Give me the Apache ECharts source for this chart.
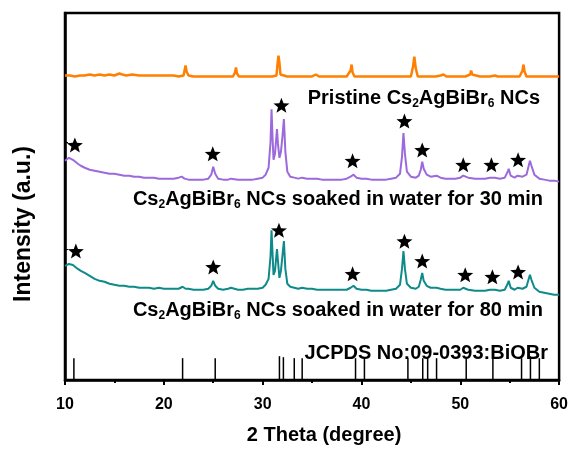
<!DOCTYPE html>
<html>
<head>
<meta charset="utf-8">
<script src="https://cdn.jsdelivr.net/npm/echarts@6/dist/echarts.min.js"></script>
<style>
html,body{margin:0;padding:0;background:#fff;}
#chart{width:571px;height:450px;}
</style>
</head>
<body>
<div id="chart"></div>
<script>
// 2θ (degree) vs intensity (a.u., offset traces)
const pristine = [[10.0,307],[10.5,307],[11.0,306],[11.5,307],[12.0,307],[12.5,308],[13.0,307],[13.5,308],[14.0,307],[14.5,308],[15.0,307],[15.5,309],[15.8,308],[16.2,307],[16.8,308],[17.5,307],[18.0,307],[18.5,307],[19.0,307],[19.5,307],[20.0,307],[20.5,307],[21.0,307],[21.5,306],[22.0,307],[22.1,312],[22.2,317],[22.3,311],[22.5,307],[23.0,306],[23.5,306],[24.0,306],[24.5,306],[25.0,306],[25.5,306],[26.0,306],[26.5,306],[27.0,306],[27.2,310],[27.3,315],[27.4,309],[27.6,306],[28.0,306],[28.5,306],[29.0,306],[29.5,306],[30.0,306],[30.5,306],[31.0,306],[31.4,307],[31.5,318],[31.6,327],[31.7,320],[31.8,308],[32.0,306],[32.5,306],[33.0,306],[33.5,306],[34.0,306],[34.5,306],[35.0,306],[35.4,308],[35.7,306],[36.0,306],[36.5,306],[37.0,306],[37.5,306],[38.0,306],[38.5,306],[38.9,312],[39.0,318],[39.1,310],[39.3,306],[39.8,306],[40.5,306],[41.0,306],[41.5,306],[42.0,306],[42.5,306],[43.0,306],[43.5,306],[44.0,306],[44.5,306],[45.0,306],[45.2,315],[45.35,326],[45.5,314],[45.7,306],[46.0,306],[46.5,306],[47.0,306],[47.5,306],[48.0,307],[48.3,308],[48.6,306],[49.0,306],[49.5,306],[50.0,306],[50.5,306],[51.0,308],[51.1,312],[51.2,308],[51.4,306],[52.0,306],[52.5,306],[53.0,306],[53.5,307],[53.8,306],[54.5,306],[55.0,306],[55.5,306],[56.0,306],[56.3,312],[56.4,318],[56.5,311],[56.7,306],[57.0,306],[57.5,306],[58.0,306],[58.5,306],[59.0,306],[59.5,306],[60.0,306]];

const soaked30 = [[10.0,221],[10.2,223],[10.4,224],[10.6,223],[10.8,222],[11.0,220],[11.3,218],[11.6,216],[12.0,214],[12.5,212],[13.0,211],[13.5,210],[14.0,209],[14.5,208],[15.0,208],[15.5,207],[16.0,206],[16.5,206],[17.0,205],[17.5,205],[18.0,204],[18.5,204],[19.0,204],[19.5,203],[20.0,203],[20.5,203],[21.0,203],[21.5,204],[21.8,205],[22.1,203],[22.5,202],[23.0,202],[23.5,202],[24.0,202],[24.5,203],[24.8,207],[25.0,215],[25.2,208],[25.5,203],[26.0,202],[26.5,202],[26.8,203],[27.0,202],[27.5,202],[28.0,202],[28.5,202],[29.0,202],[29.5,203],[30.0,204],[30.3,207],[30.6,214],[30.8,240],[30.9,273],[31.0,245],[31.1,222],[31.25,228],[31.45,253],[31.55,238],[31.7,224],[31.85,230],[32.0,245],[32.15,263],[32.3,230],[32.5,210],[32.8,205],[33.2,204],[33.6,203],[34.0,204],[34.5,203],[35.0,203],[35.5,203],[36.0,202],[36.5,202],[37.0,202],[37.5,202],[38.0,202],[38.5,203],[38.9,205],[39.2,207],[39.5,204],[40.0,203],[40.5,203],[41.0,202],[41.5,202],[42.0,202],[42.5,202],[43.0,203],[43.5,204],[43.9,208],[44.1,225],[44.25,249],[44.4,228],[44.6,210],[45.0,205],[45.5,204],[45.8,206],[46.0,212],[46.15,220],[46.3,213],[46.6,207],[47.0,205],[47.6,206],[48.0,204],[48.5,203],[49.0,203],[49.5,203],[50.0,204],[50.3,206],[50.5,206],[50.8,204],[51.5,203],[52.0,203],[52.5,203],[53.0,204],[53.2,205],[53.5,204],[54.0,203],[54.5,204],[54.8,210],[54.9,213],[55.1,206],[55.5,204],[55.8,206],[56.0,207],[56.3,205],[56.7,207],[56.9,215],[57.05,221],[57.2,216],[57.5,207],[58.0,203],[58.5,202],[59.0,201],[59.5,201],[60.0,200]];

const soaked80 = [[10.0,115],[10.2,116],[10.4,117],[10.6,117],[10.8,116],[11.0,114],[11.3,112],[11.6,110],[12.0,108],[12.5,105],[13.0,102],[13.5,100],[14.0,99],[14.5,97],[15.0,96],[15.5,95],[16.0,95],[16.5,94],[17.0,94],[17.5,93],[18.0,93],[18.5,93],[19.0,92],[19.5,93],[20.0,92],[20.5,92],[21.0,92],[21.5,92],[21.9,94],[22.2,92],[22.5,92],[23.0,91],[23.5,91],[24.0,91],[24.5,92],[24.8,95],[25.0,100],[25.2,95],[25.5,92],[26.0,91],[26.5,92],[26.8,93],[27.0,91],[27.5,91],[28.0,91],[28.5,92],[29.0,92],[29.5,92],[30.0,93],[30.3,96],[30.6,102],[30.8,125],[30.9,151],[31.0,128],[31.1,106],[31.25,110],[31.45,132],[31.55,120],[31.7,103],[31.85,110],[32.0,125],[32.15,140],[32.3,112],[32.5,97],[32.8,94],[33.2,93],[33.6,92],[34.0,93],[34.5,92],[35.0,92],[35.5,91],[36.0,91],[36.5,91],[37.0,91],[37.5,91],[38.0,91],[38.5,91],[38.9,93],[39.2,95],[39.5,92],[40.0,91],[40.5,91],[41.0,90],[41.5,90],[42.0,90],[42.5,90],[43.0,91],[43.5,92],[43.9,96],[44.1,112],[44.25,130],[44.4,112],[44.6,97],[45.0,93],[45.5,92],[45.8,94],[46.0,101],[46.15,108],[46.3,100],[46.6,95],[47.0,93],[47.6,93],[48.0,92],[48.5,91],[49.0,91],[49.5,91],[50.0,91],[50.3,93],[50.5,93],[50.8,91],[51.5,90],[52.0,90],[52.5,90],[53.0,91],[53.2,92],[53.5,91],[54.0,90],[54.5,91],[54.8,97],[54.9,100],[55.1,93],[55.5,91],[55.8,93],[56.0,94],[56.3,92],[56.7,94],[56.9,101],[57.05,106],[57.2,101],[57.5,93],[58.0,89],[58.5,88],[59.0,87],[59.5,86],[60.0,86]];

// star markers above the peaks
const stars30 = [[11.0,237],[24.95,228],[31.9,277],[39.1,221],[44.35,261],[46.15,232],[50.3,217],[53.15,217],[55.85,222]];
const stars80 = [[11.1,130],[25.0,114],[31.65,151],[39.1,107],[44.35,140],[46.15,120],[50.5,106],[53.25,104],[55.85,109]];

// JCPDS 09-0393 BiOBr reference lines
const refPos = [10.9,21.9,25.2,31.7,32.1,33.2,34.0,39.4,40.3,44.7,46.2,46.7,47.6,50.6,53.3,56.2,57.1,58.0];
const refHeight = [22,22,22,24,23,22,22,22,22,22,22,22,22,22,22,22,24,22];

const xTicks = [10,20,30,40,50,60];
const yTicks = [132,240];

// labels as rich text (Cs2AgBiBr6 with subscripts)
const labelPristine = '{m|Pristine Cs}{s|2}{m|AgBiBr}{s|6}{m| NCs}';
const label30 = '{m|Cs}{s|2}{m|AgBiBr}{s|6}{m| NCs soaked in water for 30 min}';
const label80 = '{m|Cs}{s|2}{m|AgBiBr}{s|6}{m| NCs soaked in water for 80 min}';
const labelRef = 'JCPDS No:09-0393:BiOBr';
const xName = '2 Theta (degree)';
const yName = 'Intensity (a.u.)';

const FONT = '"Liberation Sans", Arial, sans-serif';
const chart = echarts.init(document.getElementById('chart'));

const rich = {
  m: {fontSize: 20, fontWeight: 'bold', fontFamily: FONT, color: '#000', lineHeight: 20},
  s: {fontSize: 12, fontWeight: 'bold', fontFamily: FONT, color: '#000', lineHeight: 12, padding: [12,0,0,0]}
};

const starPath = 'path://M12,1 L14.9,8.6 L23,9.1 L16.7,14.2 L18.8,22.1 L12,17.6 L5.2,22.1 L7.3,14.2 L1,9.1 L9.1,8.6 Z';

const option = {
  animation: false,
  backgroundColor: '#fff',
  grid: {left: 65, right: 11, top: 13, bottom: 67, show: true, borderColor: '#000', borderWidth: 2.5, backgroundColor: 'transparent'},
  xAxis: {
    type: 'value', min: xTicks[0], max: xTicks[xTicks.length-1], interval: 10,
    name: xName, nameLocation: 'middle', nameGap: 45,
    nameTextStyle: {fontSize: 20, fontWeight: 'bold', fontFamily: FONT, color: '#000', padding: [0,0,0,24]},
    axisLine: {show: true, lineStyle: {color: '#000', width: 2.5}},
    axisTick: {show: true, inside: false, length: 5, lineStyle: {color: '#000', width: 2}},
    minorTick: {show: true, splitNumber: 2, length: 3, lineStyle: {color: '#000', width: 2}},
    axisLabel: {fontSize: 16, fontWeight: 'bold', fontFamily: FONT, color: '#000', margin: 17},
    splitLine: {show: false}, minorSplitLine: {show: false}
  },
  yAxis: {
    type: 'value', min: 0, max: 370,
    axisLine: {show: true, lineStyle: {color: '#000', width: 2.5}},
    axisTick: {show: true, inside: true, length: 3, customValues: yTicks, lineStyle: {color: '#000', width: 1}},
    axisLabel: {show: false},
    splitLine: {show: false}
  },
  graphic: [
    {type: 'text', x: 24, y: 224, rotation: Math.PI/2,
     style: {text: yName, font: 'bold 23px ' + FONT, fill: '#000', align: 'center', verticalAlign: 'middle'}},
    {type: 'text', x: 540, y: 98, style: {text: labelPristine, rich: rich, align: 'right', verticalAlign: 'middle'}},
    {type: 'text', x: 543, y: 199, style: {text: label30, rich: rich, align: 'right', verticalAlign: 'middle'}},
    {type: 'text', x: 543, y: 310, style: {text: label80, rich: rich, align: 'right', verticalAlign: 'middle'}},
    {type: 'text', x: 548, y: 353, style: {text: labelRef, font: 'bold 20px ' + FONT, fill: '#000', align: 'right', verticalAlign: 'middle'}}
  ],
  series: [
    {type: 'line', data: pristine, showSymbol: false, lineStyle: {color: '#FF8000', width: 2.5}, z: 3},
    {type: 'line', data: soaked30, showSymbol: false, lineStyle: {color: '#9C6ADB', width: 2}, z: 3},
    {type: 'line', data: soaked80, showSymbol: false, lineStyle: {color: '#0F8A8A', width: 2}, z: 3},
    {type: 'scatter', data: stars30, symbol: starPath, symbolSize: [16,15], itemStyle: {color: '#000', opacity: 1}, z: 4},
    {type: 'scatter', data: stars80, symbol: starPath, symbolSize: [16,15], itemStyle: {color: '#000', opacity: 1}, z: 4},
    {type: 'bar', data: refPos.map((p,i)=>[p, refHeight[i]]), barWidth: 1.5, itemStyle: {color: '#000'}, z: 2}
  ]
};
chart.setOption(option);
</script>
</body>
</html>
